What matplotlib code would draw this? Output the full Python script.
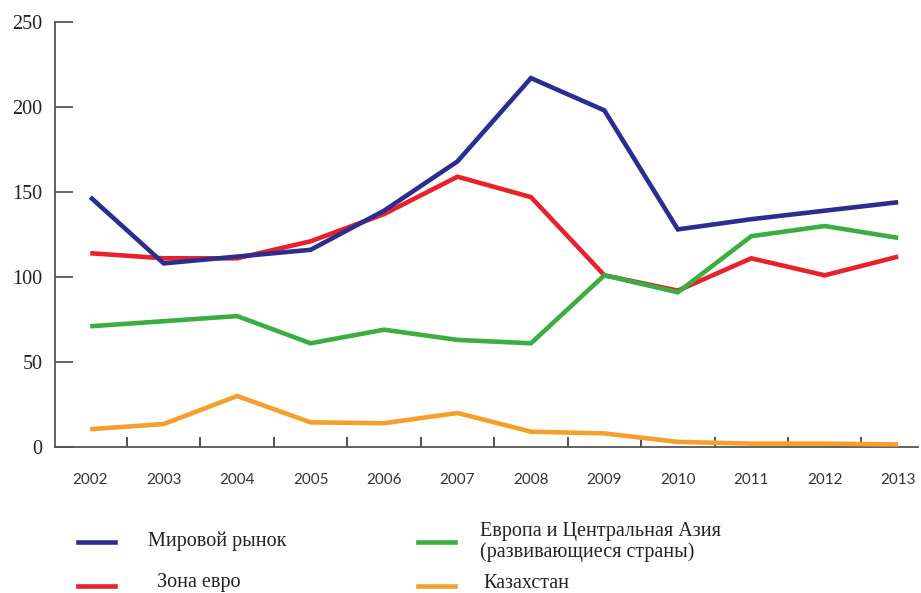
import matplotlib
matplotlib.use("Agg")
import matplotlib.pyplot as plt
from matplotlib.lines import Line2D
import numpy as np

years = [2002, 2003, 2004, 2005, 2006, 2007, 2008, 2009, 2010, 2011, 2012, 2013]
world_market = [147, 108, 112, 116, 139, 168, 217, 198, 128, 134, 139, 144]
euro_zone = [114, 111, 111, 121, 137, 159, 147, 101, 92, 111, 101, 112]
europe_central_asia = [71, 74, 77, 61, 69, 63, 61, 101, 91, 124, 130, 123]
kazakhstan = [10.5, 13.5, 30, 14.5, 14, 20, 9, 8, 3, 2, 2, 1.5]

series_labels = [
    "Мировой рынок",
    "Зона евро",
    "Европа и Центральная Азия\n(развивающиеся страны)",
    "Казахстан",
]
series_colors = ["#2b2e8e", "#e8212b", "#3aae42", "#f5a02a"]
y_ticks = [0, 50, 100, 150, 200, 250]

fig = plt.figure(figsize=(9.21, 5.93), dpi=100)
ax = fig.add_axes([55 / 921, 1 - 447 / 593, (918 - 55) / 921, (447 - 22) / 593])

x = np.arange(len(years))
lines = []
for vals, col in zip([world_market, euro_zone, europe_central_asia, kazakhstan], series_colors):
    ln, = ax.plot(x, vals, color=col, lw=3.3, solid_joinstyle="miter", solid_capstyle="butt", zorder=3)
    lines.append(ln)
lines[0].set_zorder(4)

ax.set_xlim(-0.48, len(years) - 1 + 0.27)
ax.set_ylim(0, 250)

for side in ["top", "right"]:
    ax.spines[side].set_visible(False)
for side in ["left", "bottom"]:
    ax.spines[side].set_color("#555555")
    ax.spines[side].set_linewidth(1.3)

ax.set_yticks(y_ticks)
ax.set_yticklabels([str(v) for v in y_ticks], family="Liberation Serif", fontsize=14.5, color="#222222")
ax.tick_params(axis="y", direction="in", length=13, width=1.3, color="#555555", pad=9)

# year labels under categories, ticks between categories
ax.set_xticks(x)
ax.set_xticklabels([str(y) for y in years], family="Lato", fontsize=11, color="#333333")
ax.set_xticks(x[:-1] + 0.5, minor=True)
ax.tick_params(axis="x", which="major", length=0, pad=19)
ax.tick_params(axis="x", which="minor", direction="in", length=7, width=1.3, color="#444444")

# legend drawn in figure pixel coordinates
W, H = 921, 593
entries = [
    (0, 78, 542, 148, 541),
    (1, 78, 586, 157, 583),
    (2, 418, 542, 480, 542),
    (3, 418, 586, 483, 583),
]
for idx, lx, ly, tx, ty in entries:
    fig.add_artist(Line2D([lx / W, (lx + 37) / W], [1 - ly / H, 1 - ly / H],
                          color=lines[idx].get_color(), lw=3.3, transform=fig.transFigure))
    fig.text(tx / W, 1 - ty / H, series_labels[idx], family="Liberation Serif",
             fontsize=14.5, color="#222222", ha="left", va="center", linespacing=1.05)

fig.savefig("out.png", dpi=100)
